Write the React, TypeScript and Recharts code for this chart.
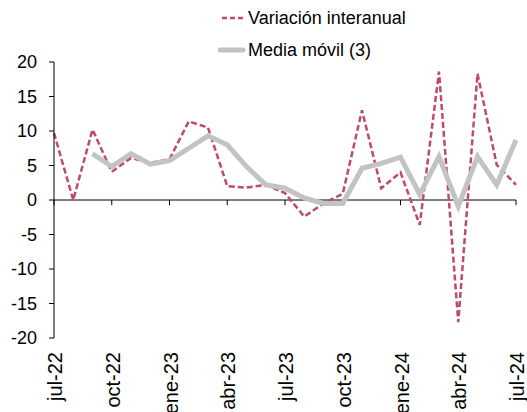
import { LineChart, Line, XAxis, YAxis, ReferenceLine, Legend } from "recharts";

const months = [
  "jul-22", "ago-22", "sep-22", "oct-22", "nov-22", "dic-22",
  "ene-23", "feb-23", "mar-23", "abr-23", "may-23", "jun-23",
  "jul-23", "ago-23", "sep-23", "oct-23", "nov-23", "dic-23",
  "ene-24", "feb-24", "mar-24", "abr-24", "may-24", "jun-24", "jul-24",
];

const variacion = [
  9.7, 0, 10.2, 4.1, 6.1, 5.4, 5.9, 11.4, 10.5, 2.0, 1.8, 2.2, 1.0,
  -2.4, -0.5, 0.9, 13.0, 1.7, 4.0, -3.6, 18.6, -17.7, 18.3, 5.1, 2.2,
];

const media = [
  null, null, 6.7, 4.85, 6.7, 5.2, 5.7, 7.5, 9.3, 8.0, 4.85, 2.2, 1.7,
  0.3, -0.5, -0.5, 4.6, 5.3, 6.2, 0.8, 6.3, -0.9, 6.3, 2.2, 8.7,
];

const yTicks = [-20, -15, -10, -5, 0, 5, 10, 15, 20];
const tickMonths = ["jul-22", "oct-22", "ene-23", "abr-23", "jul-23", "oct-23", "ene-24", "abr-24", "jul-24"];

const data = months.map((m, i) => ({ mes: m, variacion: variacion[i], media: media[i] }));

const FONT = "'Liberation Sans', Arial, sans-serif";
const RED = "#BE4A6E";
const GRAY = "#C3C3C3";

const MonthTick = ({ x, y, payload }: any) => (
  <text
    transform={`translate(${x + 1},${y}) rotate(-90)`}
    textAnchor="end"
    dy="0.35em"
    fontSize={20}
    fontFamily={FONT}
    fill="#000"
  >
    {payload.value}
  </text>
);

const LegendBox = () => (
  <svg width={240} height={62} style={{ fontFamily: FONT, display: "block" }}>
    <line x1={4} y1={18} x2={25} y2={18} stroke={RED} strokeWidth={2.5} strokeDasharray="5 3" />
    <text x={30} y={18} dy="0.35em" fontSize={18} fill="#000">Variación interanual</text>
    <line x1={2} y1={50} x2={25} y2={50} stroke={GRAY} strokeWidth={5} strokeLinecap="round" />
    <text x={30} y={50} dy="0.35em" fontSize={18} fill="#000">Media móvil (3)</text>
  </svg>
);

const App = () => {
  return (
    <div style={{ position: "absolute", left: 0, top: 0 }}>
      <LineChart width={527} height={412} data={data} margin={{ top: 0, right: 11, bottom: 0, left: 0 }}>
        <Legend
          verticalAlign="top"
          content={<LegendBox />}
          wrapperStyle={{ top: 0, left: 218, width: 240, height: 62 }}
        />
        <YAxis
          domain={[-20, 20]}
          ticks={yTicks}
          width={54}
          axisLine={{ stroke: "#000" }}
          tickLine={{ stroke: "#000" }}
          tickSize={5}
          tickMargin={12}
          tick={{ fontSize: 18, fontFamily: FONT, fill: "#000" }}
        />
        <XAxis
          dataKey="mes"
          interval={2}
          height={74}
          axisLine={false}
          tickLine={false}
          tickSize={6}
          tickMargin={8}
          tick={<MonthTick />}
        />
        <ReferenceLine y={0} stroke="#000" strokeWidth={1} />
        {tickMonths.map((m) => (
          <ReferenceLine
            key={m}
            segment={[{ x: m, y: 0 }, { x: m, y: -0.75 }]}
            stroke="#000"
            strokeWidth={1}
          />
        ))}
        <Line
          dataKey="variacion"
          stroke={RED}
          strokeWidth={2.5}
          strokeDasharray="6 3"
          dot={false}
          isAnimationActive={false}
        />
        <Line
          dataKey="media"
          stroke={GRAY}
          strokeWidth={5}
          dot={false}
          isAnimationActive={false}
        />
      </LineChart>
    </div>
  );
};

export default App;
